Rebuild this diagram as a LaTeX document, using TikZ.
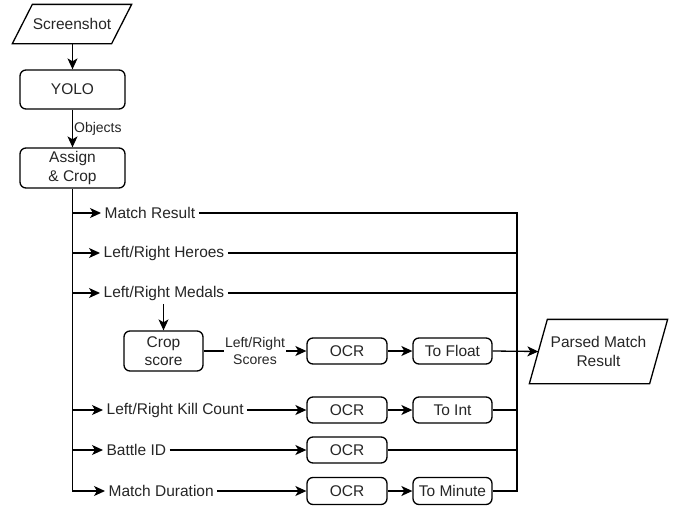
\documentclass[tikz,border=0pt]{standalone}
\usepackage{fontspec}
\setmainfont{Liberation Sans}
\usetikzlibrary{arrows.meta}
\begin{document}
\begin{tikzpicture}[x=1pt,y=-1pt,
  line width=1.3pt,
  font=\fontsize{15.5}{18.5}\selectfont,
  box/.style={draw, rounded corners=6pt, align=center, inner sep=0pt, text=black!85},
  iotext/.style={align=center, inner sep=0pt, text=black!85},
  lbl/.style={anchor=west, inner sep=3pt, text=black!85},
  small/.style={font=\fontsize{14}{17.5}\selectfont, text=black!85},
  arr/.style={-{Stealth[length=11pt,width=10pt,inset=3pt]}}
]
\useasboundingbox[fill=white] (0,0) rectangle (681,507);
% top chain
\node[iotext, minimum width=118pt, minimum height=38pt] (shot) at (72,24) {Screenshot};
\draw ([xshift=20pt]shot.north west) -- (shot.north east) -- ([xshift=-20pt]shot.south east) -- (shot.south west) -- cycle;
\node[box, minimum width=105pt, minimum height=39pt] (yolo) at (72.5,89.5) {YOLO};
\node[box, minimum width=105pt, minimum height=40pt] (assign) at (72.5,168) {Assign\\\& Crop};
\draw[arr] (shot.south -| yolo.north) -- (yolo.north);
\draw[arr] (yolo.south) -- node[small, anchor=west, inner sep=1pt] (objl) {Objects} (assign.north);
% row labels
\node[lbl] (mr) at (101,213) {Match Result};
\node[lbl] (heroes) at (100,253) {Left/Right Heroes};
\node[lbl] (medals) at (100,293) {Left/Right Medals};
\node[lbl] (kill) at (103,410) {Left/Right Kill Count};
\node[lbl] (battle) at (103,450) {Battle ID};
\node[lbl] (dur) at (105,491) {Match Duration};
% processing boxes
\node[box, minimum width=79pt, minimum height=40pt] (crop) at (163.5,351) {Crop\\score};
\node[box, minimum width=80pt, minimum height=26pt] (ocra) at (347,351) {OCR};
\node[box, minimum width=79pt, minimum height=26pt] (tofloat) at (452.5,351) {To Float};
\node[box, minimum width=80pt, minimum height=26pt] (ocrb) at (347,410) {OCR};
\node[box, minimum width=79pt, minimum height=26pt] (toint) at (452.5,410) {To Int};
\node[box, minimum width=80pt, minimum height=26pt] (ocrc) at (347,450) {OCR};
\node[box, minimum width=80pt, minimum height=27pt] (ocrd) at (347,491) {OCR};
\node[box, minimum width=79pt, minimum height=27pt] (tomin) at (452.5,491) {To Minute};
\node[iotext, minimum width=119pt, minimum height=63pt] (parsed) at (598.5,351.5) {Parsed Match\\Result};
\draw ([xshift=9pt]parsed.north west) -- ([xshift=9pt]parsed.north east) -- ([xshift=-9pt]parsed.south east) -- ([xshift=-9pt]parsed.south west) -- cycle;
% merge line coordinate
\coordinate (jt) at (517,213);
% trunk and branch arrows
\draw[arr] (assign.south) |- (dur.west);
\draw[arr] (assign.south |- mr.west) -- (mr.west);
\draw[arr] (assign.south |- heroes.west) -- (heroes.west);
\draw[arr] (assign.south |- medals.west) -- (medals.west);
\draw[arr] (assign.south |- kill.west) -- (kill.west);
\draw[arr] (assign.south |- battle.west) -- (battle.west);
% medals to crop score
\draw[arr] (medals.south -| crop.north) -- (crop.north);
\draw[arr] (crop.east) -- node[small, fill=white, align=center, inner sep=1pt] (scl) {Left/Right\\Scores} (ocra.west);
\draw[arr] (ocra.east) -- (tofloat.west);
\draw[arr] (tofloat.east) -- (parsed.west);
% other rows
\draw[arr] (kill.east) -- (ocrb.west);
\draw[arr] (ocrb.east) -- (toint.west);
\draw[arr] (battle.east) -- (ocrc.west);
\draw[arr] (dur.east) -- (ocrd.west);
\draw[arr] (ocrd.east) -- (tomin.west);
% merge lines
\draw (mr.east) -- (jt) |- (tomin.east);
\draw (heroes.east) -- (heroes.east -| jt);
\draw (medals.east) -- (medals.east -| jt);
\draw (toint.east) -- (toint.east -| jt);
\draw (ocrc.east) -- (ocrc.east -| jt);
\end{tikzpicture}
\end{document}
